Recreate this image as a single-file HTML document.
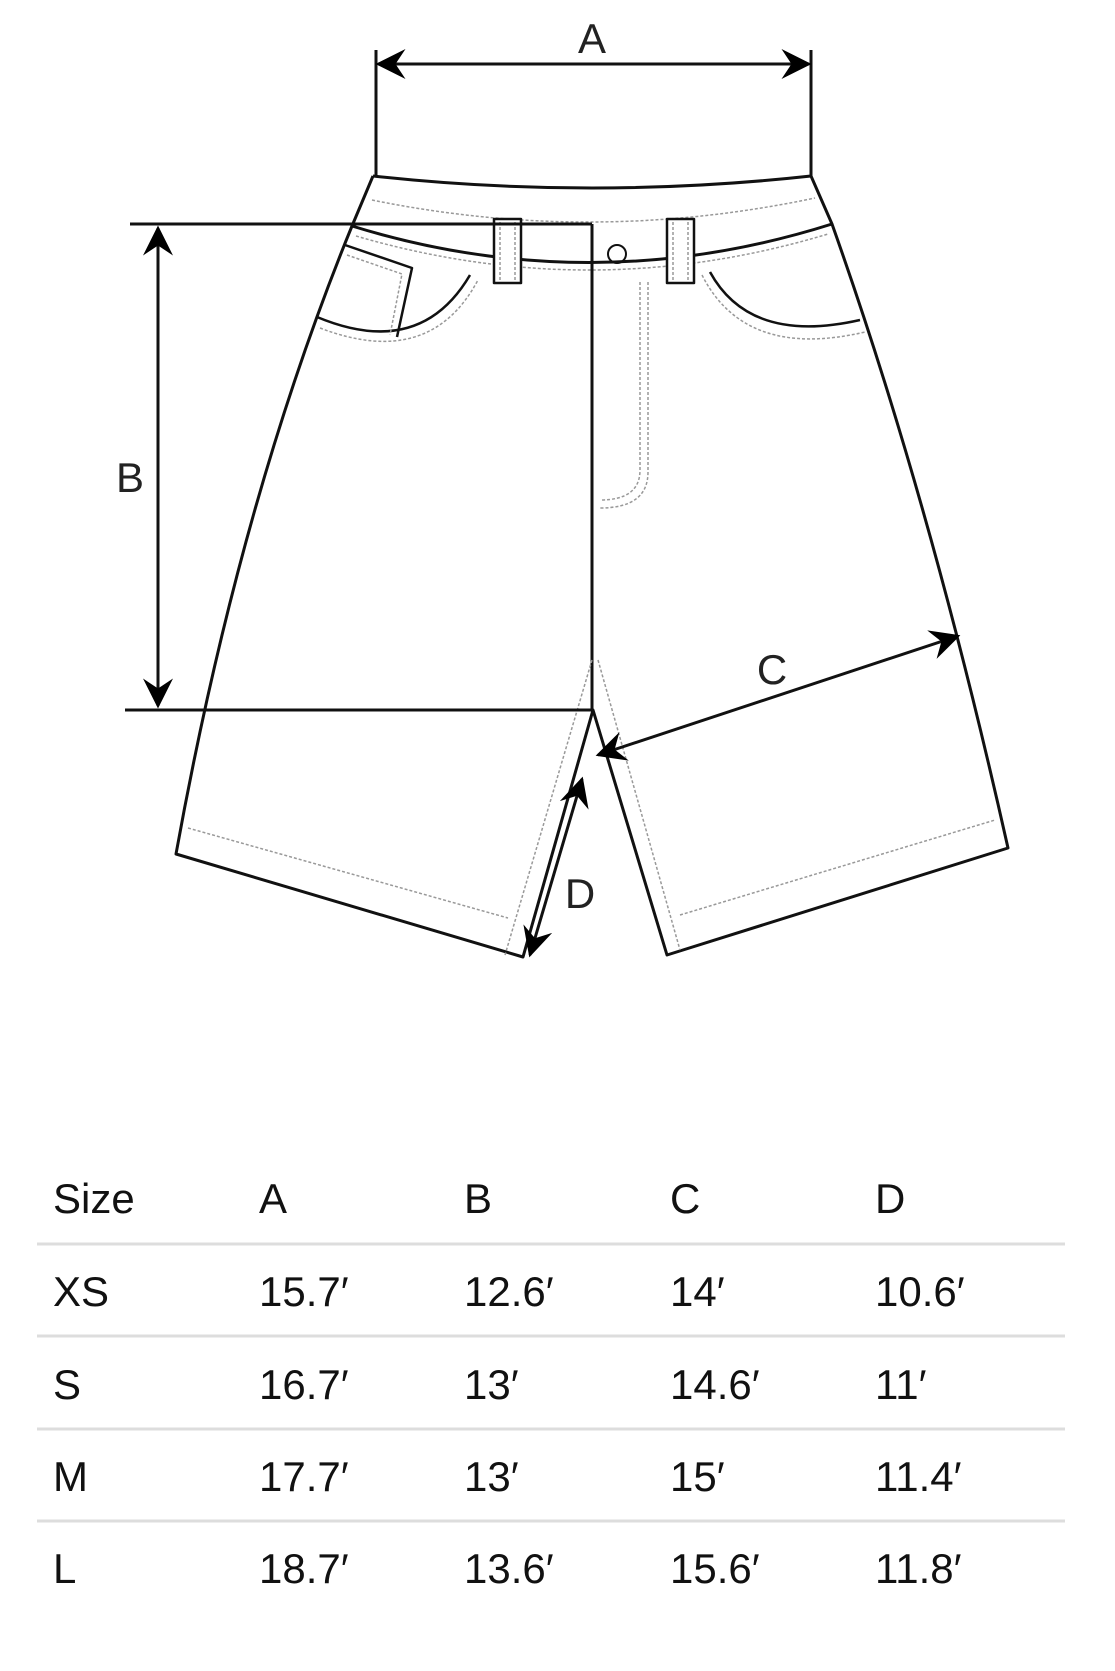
<!DOCTYPE html>
<html><head><meta charset="utf-8"><style>
html,body{margin:0;padding:0;background:#fff;}
svg{display:block;}
</style></head><body>
<svg width="1115" height="1671" viewBox="0 0 1115 1671" xmlns="http://www.w3.org/2000/svg">
<defs>
<marker id="ah2" viewBox="0 0 12 12" refX="11" refY="6" markerWidth="34" markerHeight="30" markerUnits="userSpaceOnUse" orient="auto-start-reverse">
<path d="M0,0 L12,6 L0,12 L4,6 z" fill="#000"/>
</marker>
</defs>
<g fill="none" stroke="#111" stroke-width="3" stroke-linejoin="round">
<line x1="376" y1="50" x2="376" y2="176"/>
<line x1="811" y1="50" x2="811" y2="176"/>
<line x1="378" y1="64" x2="809" y2="64" marker-start="url(#ah2)" marker-end="url(#ah2)"/>
<path d="M373,176 Q592,200 811,176"/>
<path d="M373,176 L352,226 Q592,300 832,224 L811,176"/>
<path d="M372,200 Q592,245 815,198" stroke="#999" stroke-width="1.5" stroke-dasharray="3,2"/>
<path d="M356,236 Q592,305 828,234" stroke="#999" stroke-width="1.5" stroke-dasharray="3,2"/>
<path d="M352,226 Q240,500 176,854 L523,957 L593,710 L667,955 L1008,848 Q930,500 832,224"/>
<line x1="592" y1="224" x2="592" y2="710"/>
<path d="M188,828 L508,918" stroke="#999" stroke-width="1.5" stroke-dasharray="3,2"/>
<path d="M680,915 L995,820" stroke="#999" stroke-width="1.5" stroke-dasharray="3,2"/>
<path d="M592,660 L505,955" stroke="#999" stroke-width="1.5" stroke-dasharray="3,2"/>
<path d="M598,660 L680,950" stroke="#999" stroke-width="1.5" stroke-dasharray="3,2"/>
<path d="M640,282 L640,470 Q640,500 600,500" stroke="#999" stroke-width="1.5" stroke-dasharray="3,2"/>
<path d="M648,282 L648,472 Q648,508 600,508" stroke="#999" stroke-width="1.5" stroke-dasharray="3,2"/>
<path d="M317,317 Q420,360 470,275" stroke-width="2.5"/>
<path d="M320,328 Q430,370 478,280" stroke="#999" stroke-width="1.5" stroke-dasharray="3,2"/>
<path d="M345,245 L412,268 L397,337" stroke-width="2.5"/>
<path d="M347,255 L402,274 L390,335" stroke="#999" stroke-width="1.5" stroke-dasharray="3,2"/>
<path d="M710,272 Q750,345 860,320" stroke-width="2.5"/>
<path d="M702,275 Q745,360 865,332" stroke="#999" stroke-width="1.5" stroke-dasharray="3,2"/>
<rect x="494" y="219" width="27" height="64" fill="#fff" stroke-width="2.5"/>
<rect x="667" y="219" width="27" height="64" fill="#fff" stroke-width="2.5"/>
<g stroke="#999" stroke-width="1.5" stroke-dasharray="3,2">
<line x1="500" y1="222" x2="500" y2="280"/><line x1="515" y1="222" x2="515" y2="280"/>
<line x1="673" y1="222" x2="673" y2="280"/><line x1="688" y1="222" x2="688" y2="280"/>
</g>
<circle cx="617" cy="254" r="9" stroke-width="2"/>
<line x1="130" y1="224" x2="592" y2="224"/>
<line x1="125" y1="710" x2="592" y2="710"/>
<line x1="158" y1="228" x2="158" y2="706" marker-start="url(#ah2)" marker-end="url(#ah2)"/>
<line x1="598" y1="755" x2="958" y2="636" marker-start="url(#ah2)" marker-end="url(#ah2)"/>
<line x1="582" y1="779" x2="530" y2="955" marker-start="url(#ah2)" marker-end="url(#ah2)"/>
</g>
<g font-family="'Liberation Sans',sans-serif" fill="#222" font-size="42">
<text x="592" y="53" text-anchor="middle">A</text>
<text x="130" y="492" text-anchor="middle">B</text>
<text x="772" y="684" text-anchor="middle">C</text>
<text x="580" y="908" text-anchor="middle">D</text>
</g>
<g stroke="#ddd" stroke-width="3">
<line x1="37" y1="1244" x2="1065" y2="1244"/>
<line x1="37" y1="1336" x2="1065" y2="1336"/>
<line x1="37" y1="1429" x2="1065" y2="1429"/>
<line x1="37" y1="1521" x2="1065" y2="1521"/>
</g>
<g font-family="'Liberation Sans',sans-serif" font-size="42" fill="#111">
<text x="53" y="1213">Size</text><text x="259" y="1213">A</text><text x="464" y="1213">B</text><text x="670" y="1213">C</text><text x="875" y="1213">D</text>
<text x="53" y="1306">XS</text><text x="259" y="1306">15.7′</text><text x="464" y="1306">12.6′</text><text x="670" y="1306">14′</text><text x="875" y="1306">10.6′</text>
<text x="53" y="1399">S</text><text x="259" y="1399">16.7′</text><text x="464" y="1399">13′</text><text x="670" y="1399">14.6′</text><text x="875" y="1399">11′</text>
<text x="53" y="1491">M</text><text x="259" y="1491">17.7′</text><text x="464" y="1491">13′</text><text x="670" y="1491">15′</text><text x="875" y="1491">11.4′</text>
<text x="53" y="1583">L</text><text x="259" y="1583">18.7′</text><text x="464" y="1583">13.6′</text><text x="670" y="1583">15.6′</text><text x="875" y="1583">11.8′</text>
</g>
</svg>
</body></html>
